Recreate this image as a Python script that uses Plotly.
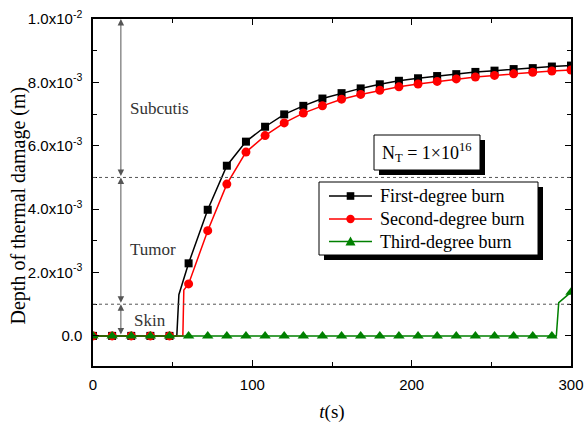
import plotly.graph_objects as go

# ---- data -------------------------------------------------------------
t_marks = list(range(0, 301, 12))  # sampled times (s)

first_degree = [0, 0, 0, 0, 0,
                2.29e-3, 3.98e-3, 5.37e-3, 6.13e-3, 6.60e-3, 6.99e-3, 7.26e-3,
                7.49e-3, 7.66e-3, 7.81e-3, 7.94e-3, 8.05e-3, 8.13e-3, 8.20e-3,
                8.26e-3, 8.33e-3, 8.37e-3, 8.42e-3, 8.45e-3, 8.50e-3, 8.53e-3]
second_degree = [0, 0, 0, 0, 0,
                 1.64e-3, 3.32e-3, 4.79e-3, 5.80e-3, 6.32e-3, 6.72e-3, 7.03e-3,
                 7.26e-3, 7.47e-3, 7.62e-3, 7.75e-3, 7.86e-3, 7.95e-3, 8.03e-3,
                 8.11e-3, 8.17e-3, 8.22e-3, 8.27e-3, 8.32e-3, 8.36e-3, 8.39e-3]
third_degree = [0] * 25 + [1.38e-3]

# onset of each damage front between the sampled times
first_onset_t, first_onset_y = [52.6, 53.9], [0, 1.30e-3]
second_onset_t, second_onset_y = [56.4, 57.0], [0, 1.45e-3]
third_onset_t, third_onset_y = [290.8, 292.3], [0, 1.05e-3]

series_names = ["First-degree burn", "Second-degree burn", "Third-degree burn"]
layer_bounds = [0.0, 1e-3, 5e-3, 1e-2]          # skin / tumor / subcutis
layer_names = ["Skin", "Tumor", "Subcutis"]

y_tickvals = [0, 2e-3, 4e-3, 6e-3, 8e-3, 1e-2]
y_ticktext = ["0.0", "2.0x10<sup>-3</sup>", "4.0x10<sup>-3</sup>",
              "6.0x10<sup>-3</sup>", "8.0x10<sup>-3</sup>", "1.0x10<sup>-2</sup>"]

# ---- layout geometry ---------------------------------------------------
W, H = 584, 423
ML, MR, MT, MB = 93, 13, 19, 57
PW, PH = W - ML - MR, H - MT - MB


def px_x(p):
    return (p - ML) / PW


def px_y(p):
    return 1 - (p - MT) / PH


def merged(ts, ys, ots, oys):
    pts = sorted(zip(list(ts) + list(ots), list(ys) + list(oys)))
    return [p[0] for p in pts], [p[1] for p in pts]


SERIF = "Liberation Serif, Times New Roman, serif"
SANS = "Liberation Sans, Arial, sans-serif"

styles = [
    dict(color="#000000", symbol="square", size=8),
    dict(color="#ff0000", symbol="circle", size=9),
    dict(color="#008000", symbol="triangle-up", size=10),
]
data = [
    (first_degree, first_onset_t, first_onset_y),
    (second_degree, second_onset_t, second_onset_y),
    (third_degree, third_onset_t, third_onset_y),
]

fig = go.Figure()
for name, st, (vals, ot, oy) in zip(series_names, styles, data):
    lx, ly = merged(t_marks, vals, ot, oy)
    fig.add_trace(go.Scatter(x=lx, y=ly, mode="lines", name=name, showlegend=False,
                             line=dict(color=st["color"], width=1.5),
                             hoverinfo="skip"))
    fig.add_trace(go.Scatter(x=t_marks, y=vals, mode="markers", name=name,
                             showlegend=False,
                             marker=dict(color=st["color"], symbol=st["symbol"],
                                         size=st["size"], line=dict(width=0))))

shapes = []
annotations = []

# layer boundaries
for yb in layer_bounds[1:3]:
    shapes.append(dict(type="line", xref="paper", yref="y", x0=0, x1=1, y0=yb, y1=yb,
                       line=dict(color="#555555", width=1, dash="dot")))

# boxes (N_T note and legend) with drop shadow
nt_box = (374, 135, 480, 170)
lg_box = (319, 182, 538, 255)
for (x0, y0, x1, y1) in (nt_box, lg_box):
    shapes.append(dict(type="rect", xref="paper", yref="paper",
                       x0=px_x(x0 + 5), x1=px_x(x1 + 5), y0=px_y(y0 + 5), y1=px_y(y1 + 5),
                       fillcolor="#000000", line=dict(width=0), layer="above"))
    shapes.append(dict(type="rect", xref="paper", yref="paper",
                       x0=px_x(x0), x1=px_x(x1), y0=px_y(y0), y1=px_y(y1),
                       fillcolor="#ffffff", line=dict(color="#000000", width=1),
                       layer="above"))

# legend entries: line + symbol + label
row_y = [196, 219, 241.5]
sym_x0, sym_x1, text_x = 329, 372, 378
for name, st, ry in zip(series_names, styles, row_y):
    c = st["color"]
    shapes.append(dict(type="line", xref="paper", yref="paper",
                       x0=px_x(sym_x0), x1=px_x(sym_x1), y0=px_y(ry), y1=px_y(ry),
                       line=dict(color=c, width=1.5), layer="above"))
    cx = (sym_x0 + sym_x1) / 2
    if st["symbol"] == "square":
        h = 3.8
        shapes.append(dict(type="rect", xref="paper", yref="paper",
                           x0=px_x(cx - h), x1=px_x(cx + h),
                           y0=px_y(ry - h), y1=px_y(ry + h),
                           fillcolor=c, line=dict(width=0), layer="above"))
    elif st["symbol"] == "circle":
        r = 4.2
        shapes.append(dict(type="circle", xref="paper", yref="paper",
                           x0=px_x(cx - r), x1=px_x(cx + r),
                           y0=px_y(ry - r), y1=px_y(ry + r),
                           fillcolor=c, line=dict(width=0), layer="above"))
    else:
        hw = 5
        path = "M {:.5f},{:.5f} L {:.5f},{:.5f} L {:.5f},{:.5f} Z".format(
            px_x(cx - hw), px_y(ry + 4), px_x(cx + hw), px_y(ry + 4),
            px_x(cx), px_y(ry - 5))
        shapes.append(dict(type="path", xref="paper", yref="paper", path=path,
                           fillcolor=c, line=dict(width=0), layer="above"))
    annotations.append(dict(x=px_x(text_x), y=px_y(ry), xref="paper", yref="paper",
                            text=name, showarrow=False, xanchor="left",
                            yanchor="middle",
                            font=dict(family=SERIF, size=18, color="#000000")))

# double-headed arrows marking the tissue layers
arrow_t = 17.5
for lo, hi in zip(layer_bounds[:-1], layer_bounds[1:]):
    annotations.append(dict(x=arrow_t, y=hi, ax=arrow_t, ay=lo, xref="x", yref="y",
                            axref="x", ayref="y", text="", showarrow=True,
                            arrowhead=2, arrowside="end+start", arrowsize=1.3,
                            arrowwidth=1, arrowcolor="#555555",
                            standoff=0, startstandoff=0))

label_pos = [(24.5, 0.5e-3), (21.7, 2.73e-3), (21.7, 7.19e-3)]
for name, (lx, ly) in zip(layer_names, label_pos):
    annotations.append(dict(x=lx, y=ly, xref="x", yref="y", text=name,
                            showarrow=False, xanchor="left", yanchor="middle",
                            font=dict(family=SERIF, size=17, color="#333333")))

annotations.append(dict(x=px_x((nt_box[0] + nt_box[2]) / 2),
                        y=px_y((nt_box[1] + nt_box[3]) / 2),
                        xref="paper", yref="paper", showarrow=False,
                        text="N<sub>T</sub> = 1×10<sup>16</sup>",
                        xanchor="center", yanchor="middle",
                        font=dict(family=SERIF, size=18, color="#000000")))

# y-axis title
annotations.append(dict(x=px_x(17.5), y=px_y(206), xref="paper", yref="paper",
                        text="Depth of thermal damage (m)", textangle=-90,
                        showarrow=False, xanchor="center", yanchor="middle",
                        font=dict(family=SERIF, size=20, color="#000000")))

axis_common = dict(showline=True, linecolor="#000000", linewidth=1.5, mirror="ticks",
                   ticks="inside", ticklen=6, tickwidth=1.2, tickcolor="#000000",
                   showgrid=False, zeroline=False, automargin=False,
                   tickfont=dict(family=SANS, size=15, color="#000000"))

fig.update_layout(
    width=W, height=H,
    margin=dict(l=ML, r=MR, t=MT, b=MB),
    paper_bgcolor="#ffffff", plot_bgcolor="#ffffff",
    shapes=shapes, annotations=annotations,
    showlegend=False,
    xaxis=dict(range=[0, 300], tickvals=[0, 100, 200, 300],
               minor=dict(tickvals=[50, 150, 250], ticks="inside", ticklen=4,
                          tickcolor="#000000"),
               title=dict(text="<i>t</i>(s)", standoff=14,
                          font=dict(family=SERIF, size=19, color="#000000")),
               ticklabelstandoff=4,
               **axis_common),
    yaxis=dict(range=[-0.00095, 0.01], tickvals=y_tickvals, ticktext=y_ticktext,
               minor=dict(tickvals=[1e-3, 3e-3, 5e-3, 7e-3, 9e-3], ticks="inside",
                          ticklen=4, tickcolor="#000000"),
               ticklabelstandoff=6,
               **axis_common),
)

fig.write_html("out.html")
